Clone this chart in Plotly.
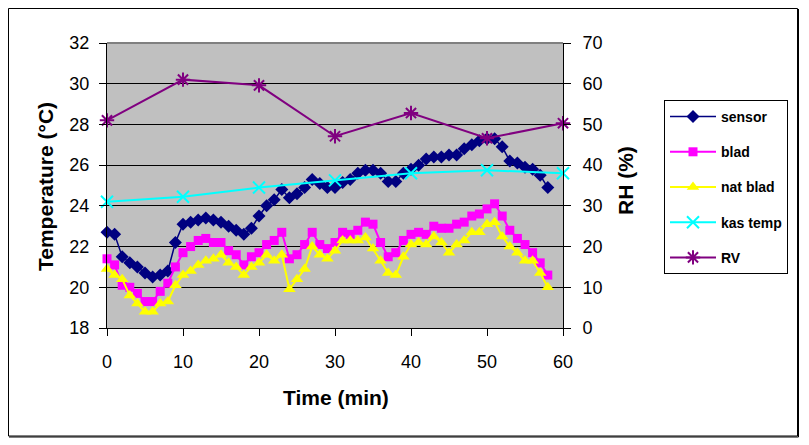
import plotly.graph_objects as go

# ---- data ----
time_min = list(range(59))
sensor = [22.7, 22.6, 21.5, 21.2, 21.0, 20.7, 20.5, 20.6, 20.8, 22.2,
          23.1, 23.2, 23.3, 23.4, 23.3, 23.2, 23.0, 22.8, 22.6, 22.9,
          23.5, 24.0, 24.3, 24.8, 24.4, 24.6, 24.9, 25.3, 25.1, 24.9,
          24.9, 25.15, 25.3, 25.6, 25.75, 25.75, 25.6, 25.2, 25.2, 25.6,
          25.8, 26.0, 26.3, 26.4, 26.4, 26.5, 26.5, 26.8, 27.0, 27.2,
          27.3, 27.3, 26.9, 26.2, 26.1, 25.9, 25.8, 25.5, 24.9]
blad = [21.4, 21.1, 20.1, 20.0, 19.7, 19.3, 19.3, 19.8, 20.2, 21.0,
        21.7, 22.0, 22.3, 22.4, 22.2, 22.2, 21.8, 21.6, 21.1, 21.5,
        21.7, 22.1, 22.3, 22.7, 21.4, 21.6, 22.1, 22.7, 22.1, 21.9,
        22.2, 22.7, 22.6, 22.8, 23.2, 23.1, 22.2, 21.5, 21.7, 22.3,
        22.6, 22.7, 22.6, 23.0, 22.9, 22.9, 23.1, 23.2, 23.5, 23.6,
        23.85, 24.1, 23.5, 22.8, 22.4, 22.1, 21.7, 21.2, 20.6]
nat_blad = [20.9, 20.6, 20.4, 19.6, 19.2, 18.8, 18.8, 19.2, 19.3, 20.1,
            20.6, 20.8, 21.1, 21.3, 21.4, 21.6, 21.2, 21.0, 20.6, 21.0,
            21.2, 21.6, 21.3, 21.6, 19.9, 20.4, 20.9, 22.0, 21.6, 21.4,
            21.8, 22.3, 22.3, 22.3, 22.45, 21.9, 21.3, 20.7, 20.6, 21.5,
            22.1, 22.2, 22.1, 22.5, 22.2, 21.7, 22.1, 22.3, 22.7, 22.7,
            23.1, 23.2, 22.5, 22.0, 21.7, 21.3, 21.3, 20.7, 20.0]
kas_time = [0, 10, 20, 30, 40, 50, 60]
kas_temp = [24.2, 24.45, 24.9, 25.25, 25.6, 25.75, 25.6]
rv_time = [0, 10, 20, 30, 40, 50, 60]
rv = [51.0, 61.0, 59.6, 47.1, 52.8, 46.6, 50.3]

x_ticks = [0, 10, 20, 30, 40, 50, 60]
temp_ticks = [18, 20, 22, 24, 26, 28, 30, 32]
rh_ticks = [0, 10, 20, 30, 40, 50, 60, 70]

FONT = "Arial, Liberation Sans, sans-serif"
W, H = 809, 445
L, R, T, B = 107, 563, 43, 328


def px(x):
    return (x - L) / (R - L)


def py(y):
    return (B - y) / (B - T)


fig = go.Figure()
fig.add_trace(go.Scatter(x=time_min, y=sensor, name="<b>sensor</b>", mode="lines+markers",
                         line=dict(color="#000080", width=1.5),
                         marker=dict(symbol="diamond", size=10, color="#000080"),
                         cliponaxis=False, legendgroup="a"))
fig.add_trace(go.Scatter(x=time_min, y=blad, name="<b>blad</b>", mode="lines+markers",
                         line=dict(color="#FF00FF", width=2),
                         marker=dict(symbol="square", size=9, color="#FF00FF"),
                         cliponaxis=False, legendgroup="b"))
fig.add_trace(go.Scatter(x=time_min, y=nat_blad, name="<b>nat blad</b>", mode="lines+markers",
                         line=dict(color="#FFFF00", width=2),
                         marker=dict(symbol="triangle-up", size=11, color="#FFFF00"),
                         cliponaxis=False, legendgroup="c"))
fig.add_trace(go.Scatter(x=kas_time, y=kas_temp, name="<b>kas temp</b>", mode="lines+markers",
                         line=dict(color="#00FFFF", width=2),
                         marker=dict(symbol="x-thin-open", size=12, color="#00FFFF",
                                     line=dict(width=2, color="#00FFFF")),
                         cliponaxis=False, legendgroup="d"))
fig.add_trace(go.Scatter(x=rv_time, y=rv, name="<b>RV</b>", mode="lines+markers", yaxis="y2",
                         line=dict(color="#800080", width=2),
                         marker=dict(symbol="asterisk-open", size=12, color="#800080",
                                     line=dict(width=2, color="#800080")),
                         cliponaxis=False, legendgroup="e"))

axis_common = dict(showline=True, linecolor="black", linewidth=1, ticks="outside",
                   ticklen=7, tickcolor="black", tickfont=dict(family=FONT, size=18, color="black"),
                   zeroline=False)

fig.update_layout(
    width=W, height=H,
    margin=dict(l=L, r=W - R, t=T, b=H - B, pad=0),
    paper_bgcolor="white", plot_bgcolor="#C0C0C0",
    font=dict(family=FONT, color="black"),
    xaxis=dict(range=[0, 60], tickvals=x_ticks, showgrid=False, ticklabelstandoff=10, **axis_common),
    yaxis=dict(range=[18, 32], tickvals=temp_ticks, showgrid=True, gridcolor="black", gridwidth=1,
               ticklabelstandoff=6, **axis_common),
    yaxis2=dict(range=[0, 70], tickvals=rh_ticks, overlaying="y", side="right", showgrid=False,
                ticklabelstandoff=8, **axis_common),
    legend=dict(x=px(664), y=py(100), xanchor="left", yanchor="top",
                bordercolor="black", borderwidth=1, bgcolor="white",
                font=dict(family=FONT, size=14, color="black"),
                tracegroupgap=14, itemwidth=46),
    showlegend=True,
)

# axis titles
fig.add_annotation(text="<b>Temperature (°C)</b>", x=px(45), y=py(187), xref="paper", yref="paper",
                   xanchor="center", yanchor="middle",
                   showarrow=False, textangle=-90, font=dict(family=FONT, size=21, color="black"))
fig.add_annotation(text="<b>RH (%)</b>", x=px(625), y=py(181), xref="paper", yref="paper",
                   xanchor="center", yanchor="middle",
                   showarrow=False, textangle=-90, font=dict(family=FONT, size=21, color="black"))
fig.add_annotation(text="<b>Time (min)</b>", x=px(336), y=py(397), xref="paper", yref="paper",
                   xanchor="center", yanchor="middle",
                   showarrow=False, font=dict(family=FONT, size=21, color="black"))

# top border of plot area (gray)
fig.add_shape(type="line", xref="paper", yref="paper", x0=0, x1=1, y0=1, y1=1,
              line=dict(color="#808080", width=2))
# outer chart border
fig.add_shape(type="rect", xref="paper", yref="paper", x0=px(8.5), x1=px(797.5), y0=py(8.5), y1=py(436),
              line=dict(color="black", width=1))
fig.add_shape(type="line", xref="paper", yref="paper", x0=px(798.5), x1=px(798.5), y0=py(9), y1=py(437),
              line=dict(color="black", width=1))
fig.add_shape(type="line", xref="paper", yref="paper", x0=px(9), x1=px(798.5), y0=py(437), y1=py(437),
              line=dict(color="black", width=1))

fig.write_html("out.html")
